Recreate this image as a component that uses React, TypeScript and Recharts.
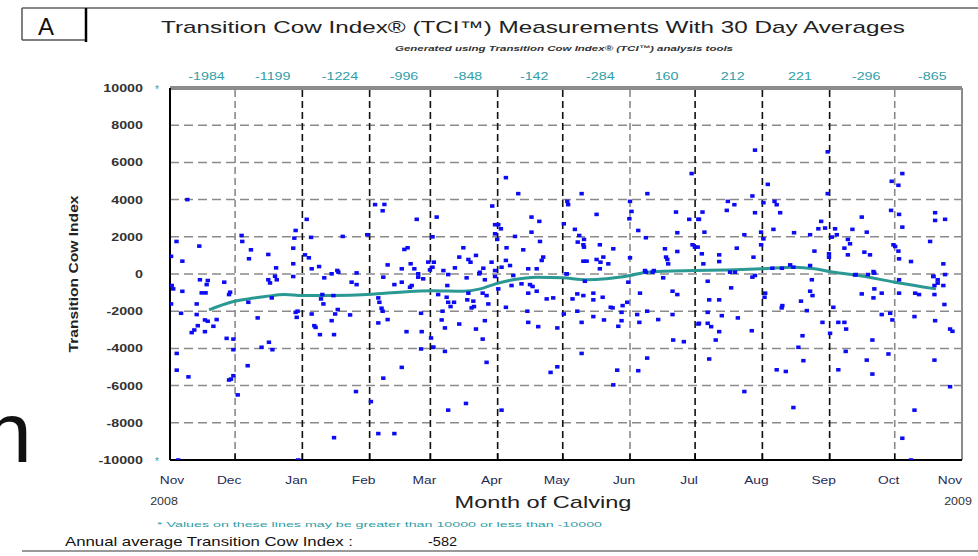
import {
  ComposedChart,
  Scatter,
  Line,
  XAxis,
  YAxis,
  CartesianGrid,
  ReferenceLine,
} from 'recharts';

const FONT = '"Liberation Sans", Arial, sans-serif';

// x axis is "days since 1 Nov 2008"
const monthStarts = [0, 30, 61, 92, 120, 151, 181, 212, 242, 273, 304, 334, 365];
const monthLabels = ['Nov', 'Dec', 'Jan', 'Feb', 'Mar', 'Apr', 'May', 'Jun', 'Jul', 'Aug', 'Sep', 'Oct', 'Nov'];
const darkMonthLines = [61, 92, 120, 151, 181, 242, 273, 304];
const monthlyAverages = [-1984, -1199, -1224, -996, -848, -142, -284, 160, 212, 221, -296, -865];
const yTicks = [-10000, -8000, -6000, -4000, -2000, 0, 2000, 4000, 6000, 8000, 10000];

// 30 day rolling average
const avgDays = [18, 28, 36, 44, 53, 61, 75, 91, 99, 113, 121, 135, 143, 150, 158, 169, 181, 192, 201, 212, 220, 242, 257, 273, 288, 297, 306, 316, 334, 353];
const avgValues = [-1930, -1520, -1340, -1210, -1105, -1160, -1160, -1105, -1030, -925, -900, -925, -800, -530, -314, -170, -206, -314, -260, -80, 99, 186, 220, 280, 365, 280, 95, -50, -440, -800];

// individual cows: [day, TCI]
const tciNovMarAbove = [
  [8, 4000], [3, 1750], [13.5, 1500], [0.5, 950], [5.7, 690], [33, 2070], [33.3, 1750], [37.3, 1300],
  [36.4, 820], [45.3, 1050], [48.9, 330], [57.9, 2340], [57.3, 1930], [56.8, 1390], [56.8, 550], [63, 2940],
  [65, 1970], [62.2, 1030], [64, 870], [65.3, 280], [68.7, 400], [77.1, 190], [74.5, 10], [79.6, 2020],
  [90.9, 2110], [94.5, 3730], [98.8, 3740], [98, 3400], [113.7, 2940], [108, 1320], [109.5, 1410], [100.3, 490],
  [106.8, 280], [110.9, 550], [112.6, 280], [119, 640], [119.8, 220], [114.4, 10], [86, 60], [48.4, -120],
];
const tciNovMarBelow = [
  [13.8, -310], [17.4, -350], [16.9, -570], [25, -440], [0.8, -620], [1.5, -800], [5.7, -930], [14.6, -1015],
  [16.4, -1015], [27.7, -980], [27.2, -1105], [0.5, -1610], [12.3, -1610], [5.1, -2110], [12.3, -2180], [16.1, -2470],
  [21.5, -2450], [17.4, -2540], [12.8, -2780], [20, -2810], [11.2, -3010], [16.1, -3100], [10, -3150], [26.1, -3460],
  [29.2, -3500], [29.2, -4070], [3.1, -4270], [3.1, -5170], [8.5, -5530], [29.2, -5470], [27.2, -5700], [28.1, -5650],
  [31.2, -6500], [3.8, -10000], [36.1, -1520], [40.4, -2360], [35.8, -4930], [42.2, -3940], [45.6, -3670], [47.2, -4070],
  [45.3, -310], [46.1, -480], [49.2, -310], [46.9, -1285], [56.8, -135], [57.9, -2060], [58.8, -2000], [58.4, -2330],
  [59.1, -10000], [65.3, -2150], [66.5, -2780], [67.1, -2870], [69.1, -3260], [69.6, -1340], [70.2, -1105], [70.7, -1610],
  [75.3, -1160], [71.1, -206], [77.6, 99], [77.3, -1910], [76.1, -2150], [74.5, -2510], [75.6, -3260], [83, -2200],
  [83.7, -440], [86, -570], [85.7, -6320], [92.6, -6860], [75.6, -8800], [96, -8580], [103.4, -8580], [98.3, -170],
  [96, -1285], [96.5, -1520], [97.5, -1840], [98, -2000], [100.3, -2450], [96, -2630], [103.4, -570], [106.8, -440],
  [111.4, -620], [110.6, -710], [109, -3100], [116, -3100], [115.7, -2110], [120.3, -3440], [121.3, -3940], [115.7, -4030],
  [106.8, -5020], [98.3, -5600], [114.4, -170], [116.7, -260],
];
const tciMarJulAbove = [
  [121, 2000], [122.9, 3060], [148.5, 3655], [154.8, 5180], [160.5, 4320], [149.8, 2650], [151.3, 2650], [152.5, 2430],
  [149.8, 2160], [150.8, 1860], [159, 2020], [166.6, 3060], [170.2, 2830], [166.6, 2250], [170.5, 1750], [162.8, 1300],
  [172, 910], [171.3, 730], [155.1, 1410], [154.8, 730], [156.7, 455], [148.2, 635], [152.8, 365], [149.8, 185],
  [135.2, 1410], [133.3, 910], [137.5, 780], [141, 1000], [138.5, 635], [131.3, 330], [144.4, 310], [142.8, 95],
  [126, 185], [121.6, 635], [121, 365], [165.1, 280], [169, 280], [183.5, 3730], [183.1, 3905], [181.5, 2700],
  [189.7, 4320], [196.6, 3205], [186.6, 2400], [188.6, 2070], [190.8, 1860], [190.8, 1445], [190.5, 1570], [187.9, 1715],
  [198.1, 1570], [204.3, 1355], [190.5, 690], [192, 690], [196.6, 780], [198.4, 635], [199.7, 910], [202, 545],
  [198.1, 280], [182.8, 10], [212, 3905], [212.7, 3365], [211.7, 2970], [215.8, 2340], [219.3, 1950], [220, 4320],
  [212, 870], [233.2, 3330], [233.8, 2220], [228.1, 1355], [233.8, 1210], [228.6, 910], [229.2, 780], [229.6, 545],
  [218.9, 185], [223, 185], [240.4, 5400], [239.3, 2940], [243.5, 2940], [240.8, 1570], [241.9, 1445],
];
const tciMarJulBelow = [
  [128.2, -30], [127.8, -620], [123.6, -1105], [127.5, -1250], [128.2, -1520], [130.9, -1520], [129.3, -1750], [125.6, -2000],
  [125.2, -2470], [126.7, -2900], [121.3, -3940], [126.7, -4160], [133.3, -2690], [136.7, -206], [137.5, -1030], [137, -1390],
  [139.8, -1460], [140.1, -1750], [139, -1820], [142.5, 10], [145.1, -310], [144.1, -1030], [145.9, -1160], [146.7, -1610],
  [145.1, -2510], [141, -2960], [144.1, -3500], [145.9, -4750], [128.2, -7320], [136.4, -6960], [152.8, -7320], [149.8, -135],
  [151.3, -800], [154.8, -1790], [157.4, -620], [158.2, -80], [162, -530], [165.1, -1030], [165.9, -570], [167.1, -670],
  [169, -925], [164.7, -2000], [165.1, -2600], [169.7, -2830], [173.6, -1340], [176.6, -1285], [178.5, -2900], [175.4, -5290],
  [178.5, -4990], [181.5, -2150], [182.8, 10], [185.5, -1340], [187.7, -1070], [190.5, -1160], [195.1, -1030], [195.1, -1390],
  [199.4, -1250], [187.7, -2000], [189.7, -2600], [189.7, -4270], [195.1, -2290], [200, -2470], [203.1, -1790], [204, -1820],
  [208.1, -2060], [208.6, -1700], [210.7, -1520], [208.1, -2510], [206.6, -2810], [206.1, -5170], [204.3, -5960], [191.2, -390],
  [211.2, -440], [216.6, -1030], [219.9, -2000], [215.3, -2180], [216.3, -2600], [225, -2450], [219.9, -4520], [215.8, -5200],
  [231.6, -2180], [231.9, -3550], [236.8, -3640], [231.6, -925], [233.8, -1105], [227.3, -206], [219.3, 99], [222.4, 99],
  [243.5, -2690],
];
const tciJulNovAbove = [
  [269.6, 6660], [303.1, 6570], [275.5, 4820], [337.5, 5400], [332.6, 4985], [335.7, 4770], [303.1, 4320], [268.4, 4195],
  [257.1, 3905], [260.1, 3725], [256.6, 3420], [273.5, 3835], [278.6, 3905], [279.6, 3725], [269.6, 3295], [281.2, 3295],
  [245.4, 3330], [243.8, 2940], [278.1, 2400], [246.3, 2250], [264.7, 2110], [272.4, 2250], [273.5, 1890], [272.4, 1570],
  [287.6, 2220], [295, 2110], [300.1, 2830], [298.8, 2430], [301.9, 2470], [306.5, 2430], [307.3, 2110], [305, 1985],
  [314.5, 2400], [312.4, 1860], [313.4, 1625], [310.8, 1390], [312.4, 1030], [318.8, 3060], [321.1, 2250], [320, 1175],
  [322.6, 1030], [303.7, 1085], [303.7, 905], [297, 1230], [295, 455], [285.8, 490], [287.3, 365], [332.3, 3420],
  [336, 3205], [337.5, 2520], [333.4, 1570], [334.2, 1480], [335.7, 1230], [336, 815], [341.5, 670], [352.6, 3295],
  [352.6, 2880], [357.2, 2940], [350.3, 1750], [356.4, 545], [245.1, 1085], [243.2, 1445], [253.1, 1030], [253.1, 670],
  [245.8, 545], [261.2, 1390], [268.9, 905], [258.1, 100], [260.4, 100], [277.6, 310], [282, 310], [324.2, 130],
];
const tciJulNovBelow = [
  [247.8, -390], [258.6, -745], [269.6, -80], [268.4, -170], [248.5, -1390], [253.1, -1390], [247.8, -2060], [254.3, -2240],
  [261.7, -2360], [243.8, -2650], [247.8, -2650], [249.4, -2830], [253.1, -3100], [251.5, -3550], [268.1, -3050], [248.5, -4570],
  [264.7, -6320], [274, -1250], [274.3, -1030], [282.2, -1700], [281.9, -1820], [290.8, -1460], [295.8, -310], [295, -925],
  [296.1, -1160], [293.5, -1970], [300.7, -2600], [291.5, -3320], [289.6, -3940], [291.9, -4660], [279.6, -5150], [283.8, -5240],
  [287.3, -7180], [304.2, -3190], [305.7, -1790], [308, -2600], [310.8, -2600], [311.6, -2960], [311.4, -4160], [308, -5150],
  [316, -30], [321.6, -30], [324.6, 45], [324.6, -800], [324.2, -1285], [318.8, -1070], [328, -1030], [328, -2180],
  [331.9, -2110], [332.9, -2470], [323.7, -3550], [331.1, -4300], [321.1, -4630], [323.7, -5380], [336, -310], [336, -1030],
  [343.4, -1030], [345.2, -1105], [343.1, -2290], [352.6, -2510], [352.3, -4630], [343.1, -7320], [337.5, -8830], [351.8, -135],
  [353.8, -310], [353.8, -490], [352.3, -620], [356.4, -620], [357.2, -30], [352.3, -1105], [356.9, -1640], [359.5, -2960],
  [360.6, -3080], [359.5, -6060], [341.5, -10000], [315.7, -50], [351.8, -120],
];

const cows = [
  ...tciNovMarAbove, ...tciNovMarBelow,
  ...tciMarJulAbove, ...tciMarJulBelow,
  ...tciJulNovAbove, ...tciJulNovBelow,
].map(([day, v]) => ({ day, v }));

const avgData = avgDays.map((day, i) => ({ day, v: avgValues[i] }));
const midDays = monthStarts.slice(0, -1).map((d, i) => (d + monthStarts[i + 1]) / 2);

const TEAL = '#2f9ea6';

function CowDot(props: any) {
  const { cx, cy } = props;
  if (cx == null || cy == null) return null;
  return <rect x={cx - 2.2} y={cy - 1.8} width={4.4} height={3.6} fill="#0b0bf5" />;
}

function YTick(props: any) {
  const { y, payload } = props;
  const v = payload.value;
  return (
    <g>
      <text
        transform={`translate(143,${y + 4}) scale(1.3,1)`}
        textAnchor="end"
        fontSize={11}
        fontWeight="bold"
        fill="#333"
        fontFamily={FONT}
      >
        {v}
      </text>
      {Math.abs(v) === 10000 && (
        <text x={157} y={y + 5} textAnchor="middle" fontSize={10} fill={TEAL} fontFamily={FONT}>
          *
        </text>
      )}
    </g>
  );
}

function BottomTick(props: any) {
  const { x, payload } = props;
  const i = monthStarts.indexOf(payload.value);
  const last = i === monthStarts.length - 1;
  const dx = i === 0 ? 2 : last ? -12 : -6;
  return (
    <g>
      <text
        transform={`translate(${x + dx},484) scale(1.25,1)`}
        textAnchor="middle"
        fontSize={11}
        fill="#1f2a55"
        fontFamily={FONT}
      >
        {monthLabels[i]}
      </text>
      {(i === 0 || last) && (
        <text
          transform={`translate(${x + (i === 0 ? -6 : -4)},505) scale(1.25,1)`}
          textAnchor="middle"
          fontSize={10}
          fill="#333"
          fontFamily={FONT}
        >
          {i === 0 ? '2008' : '2009'}
        </text>
      )}
    </g>
  );
}

function TopTick(props: any) {
  const { x, payload } = props;
  const i = midDays.indexOf(payload.value);
  if (i < 0) return null;
  return (
    <text
      transform={`translate(${x + 4},80) scale(1.3,1)`}
      textAnchor="middle"
      fontSize={11}
      fill={TEAL}
      fontFamily={FONT}
    >
      {monthlyAverages[i]}
    </text>
  );
}

export default function App() {
  return (
    <div
      style={{
        position: 'absolute',
        left: 0,
        top: 0,
        width: 978,
        height: 556,
        background: '#fff',
        overflow: 'hidden',
        fontFamily: FONT,
      }}
    >
      <ComposedChart
        width={978}
        height={556}
        margin={{ top: 68, right: 16, bottom: 66, left: 110 }}
        style={{ position: 'absolute', left: 0, top: 0 }}
      >
        <CartesianGrid vertical={false} stroke="#8a8a8a" strokeDasharray="9 5" strokeWidth={1.5} />
        <XAxis
          dataKey="day"
          type="number"
          domain={[0, 365]}
          ticks={monthStarts}
          allowDataOverflow
          height={30}
          axisLine={{ stroke: '#000', strokeWidth: 2 }}
          tickLine={false}
          tick={<BottomTick />}
          interval={0}
        />
        <XAxis
          xAxisId="top"
          orientation="top"
          dataKey="day"
          type="number"
          domain={[0, 365]}
          ticks={midDays}
          allowDataOverflow
          height={20}
          axisLine={false}
          tickLine={false}
          tick={<TopTick />}
          interval={0}
        />
        <YAxis
          dataKey="v"
          type="number"
          domain={[-10000, 10000]}
          ticks={yTicks}
          allowDataOverflow
          width={60}
          axisLine={{ stroke: '#000', strokeWidth: 2 }}
          tickLine={false}
          tick={<YTick />}
          interval={0}
        />
        {monthStarts.slice(1, -1).map((d) => (
          <ReferenceLine
            key={`m${d}`}
            x={d}
            stroke={darkMonthLines.includes(d) ? '#111' : '#8a8a8a'}
            strokeDasharray="7 4"
            strokeWidth={1.6}
          />
        ))}
        {monthStarts.slice(1, -1).map((d) => (
          <ReferenceLine
            key={`t${d}`}
            segment={[{ x: d, y: -10000 }, { x: d, y: -9650 }]}
            stroke="#000"
            strokeWidth={1.5}
          />
        ))}
        <ReferenceLine y={10000} stroke="#8c8c8c" strokeWidth={4} />
        <ReferenceLine x={365} stroke="#8c8c8c" strokeWidth={2} />
        <Scatter data={cows} dataKey="v" shape={<CowDot />} isAnimationActive={false} />
        <Line
          xAxisId="top"
          data={avgData}
          dataKey="v"
          type="monotone"
          stroke="#2a9893"
          strokeWidth={3}
          dot={false}
          activeDot={false}
          isAnimationActive={false}
        />
      </ComposedChart>

      <svg
        width={978}
        height={556}
        style={{ position: 'absolute', left: 0, top: 0, pointerEvents: 'none' }}
        fontFamily={FONT}
      >
        {/* frame */}
        <line x1={22} y1={8} x2={978} y2={8} stroke="#888" strokeWidth={2} />
        <line x1={22} y1={8} x2={22} y2={40} stroke="#555" strokeWidth={1.5} />
        <line x1={22} y1={40} x2={86} y2={40} stroke="#555" strokeWidth={1.5} />
        <line x1={86} y1={8} x2={86} y2={42} stroke="#000" strokeWidth={2.5} />
        <line x1={22} y1={551} x2={978} y2={551} stroke="#999" strokeWidth={2} />
        <text x={46} y={35} textAnchor="middle" fontSize={24} fill="#111">A</text>
        <text x={-16} y={462} fontSize={86} fill="#111">n</text>

        <text x={533} y={33} textAnchor="middle" fontSize={17} fill="#222" textLength={744} lengthAdjust="spacingAndGlyphs">
          Transition Cow Index® (TCI™) Measurements  With 30 Day Averages
        </text>
        <text x={564} y={51} textAnchor="middle" fontSize={8} fontStyle="italic" fontWeight="bold" fill="#333" textLength={338} lengthAdjust="spacingAndGlyphs">
          Generated using Transition Cow Index® (TCI™) analysis tools
        </text>

        <text
          transform="translate(78,274) rotate(-90)"
          textAnchor="middle"
          fontSize={12}
          fontWeight="bold"
          fill="#222"
          textLength={157}
          lengthAdjust="spacingAndGlyphs"
        >
          Transition Cow Index
        </text>

        <text x={543} y={508} textAnchor="middle" fontSize={17} fill="#222" textLength={177} lengthAdjust="spacingAndGlyphs">
          Month of Calving
        </text>
        <text x={157} y={527} fontSize={8} fill={TEAL} textLength={445} lengthAdjust="spacingAndGlyphs">
          * Values on these lines may be greater than 10000 or less than -10000
        </text>
        <text x={65} y={546} fontSize={13} fill="#111" textLength={288} lengthAdjust="spacingAndGlyphs">
          Annual average Transition Cow Index :
        </text>
        <text x={428} y={546} fontSize={13} fill="#111" textLength={29} lengthAdjust="spacingAndGlyphs">
          -582
        </text>
      </svg>
    </div>
  );
}
